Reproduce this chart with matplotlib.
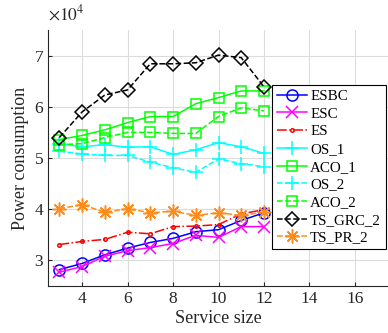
import matplotlib
matplotlib.use("Agg")
import matplotlib.pyplot as plt
from matplotlib.ticker import FuncFormatter

plt.rcParams['font.family'] = ['Liberation Serif', 'DejaVu Serif']
plt.rcParams['mathtext.fontset'] = 'stix'

service_size = [3, 4, 5, 6, 7, 8, 9, 10, 11, 12]

esbc = [28200, 29400, 31100, 32400, 33500, 34300, 35600, 36000, 37800, 39300]
esc = [27700, 28800, 30800, 31900, 32500, 33300, 34900, 34500, 36600, 36600]
es = [33100, 33700, 34100, 35500, 35200, 36600, 36700, 37000, 39100, 39900]
os_1 = [52800, 52200, 52600, 52100, 52200, 50700, 51600, 53000, 52200, 50900]
aco_1 = [53600, 54400, 55500, 56900, 58100, 58100, 60600, 61800, 63100, 63100]
os_2 = [51300, 50800, 50500, 50500, 49200, 48100, 47200, 49800, 48900, 48300]
aco_2 = [52600, 52800, 54000, 55000, 55000, 54800, 54800, 58100, 59800, 59200]
ts_grc_2 = [54000, 59000, 62300, 63300, 68400, 68400, 68600, 70100, 69600, 63900]
ts_pr_2 = [40100, 40900, 39400, 40100, 39300, 39600, 38800, 39300, 38800, 39400]

series = [
    ("ESBC", esbc, dict(color="#0000ff", linestyle="-", marker="o", markersize=8)),
    ("ESC", esc, dict(color="#ff00ff", linestyle="-", marker="x", markersize=8)),
    ("ES", es, dict(color="#ff0000", linestyle="-.", marker=".", markersize=5)),
    ("OS_1", os_1, dict(color="#00ffff", linestyle="-", marker="+", markersize=10)),
    ("ACO_1", aco_1, dict(color="#00ff00", linestyle="-", marker="s", markersize=7)),
    ("OS_2", os_2, dict(color="#00ffff", linestyle="--", marker="+", markersize=10)),
    ("ACO_2", aco_2, dict(color="#00ff00", linestyle="--", marker="s", markersize=7)),
    ("TS_GRC_2", ts_grc_2, dict(color="#000000", linestyle="--", marker="D", markersize=7)),
    ("TS_PR_2", ts_pr_2, dict(color="#ff8c1a", linestyle="--", marker=(8, 2, 0), markersize=10)),
]

fig = plt.figure(figsize=(3.88, 3.33), dpi=100)
W, H = 388, 333
ax = fig.add_axes([48 / W, (H - 286) / H, (389 - 48) / W, (286 - 30) / H])

handles = []
for name, vals, st in series:
    h, = ax.plot(service_size, vals, label=name, linewidth=1.1,
                 markerfacecolor="none", markeredgewidth=1.1, **st)
    handles.append(h)

ax.set_xlim(2.5, 17.5)
ax.set_ylim(25000, 75000)
ax.set_xticks([4, 6, 8, 10, 12, 14, 16])
ax.set_yticks([30000, 40000, 50000, 60000, 70000])
ax.yaxis.set_major_formatter(FuncFormatter(lambda v, p: f"{v/1e4:g}"))

ax.grid(True, color="#dcdcdc", linewidth=0.8)
ax.set_axisbelow(True)
for s in ["top", "right"]:
    ax.spines[s].set_visible(False)
for s in ["left", "bottom"]:
    ax.spines[s].set_color("#262626")
    ax.spines[s].set_linewidth(0.8)
ax.tick_params(direction="in", length=3, colors="#262626", labelsize=12.5, width=0.8)

ax.set_xlabel("Service size", fontsize=13, color="#262626", labelpad=2)
ax.set_ylabel("Power consumption", fontsize=13, color="#262626", labelpad=4)

ax.text(0.0, 1.025, r"$\times 10^{4}$", transform=ax.transAxes, fontsize=12.5,
        color="#262626", ha="left", va="bottom")

leg = ax.legend(handles=handles, loc="upper left",
                bbox_to_anchor=(272 / W, 1 - 85 / H), bbox_transform=fig.transFigure,
                fontsize=10.8, frameon=True, fancybox=False, framealpha=1,
                edgecolor="#000000", borderaxespad=0, borderpad=0.3,
                labelspacing=0.28, handlelength=2.0, handletextpad=0.25)
leg.get_frame().set_linewidth(0.8)

fig.savefig("out.png", dpi=100)
